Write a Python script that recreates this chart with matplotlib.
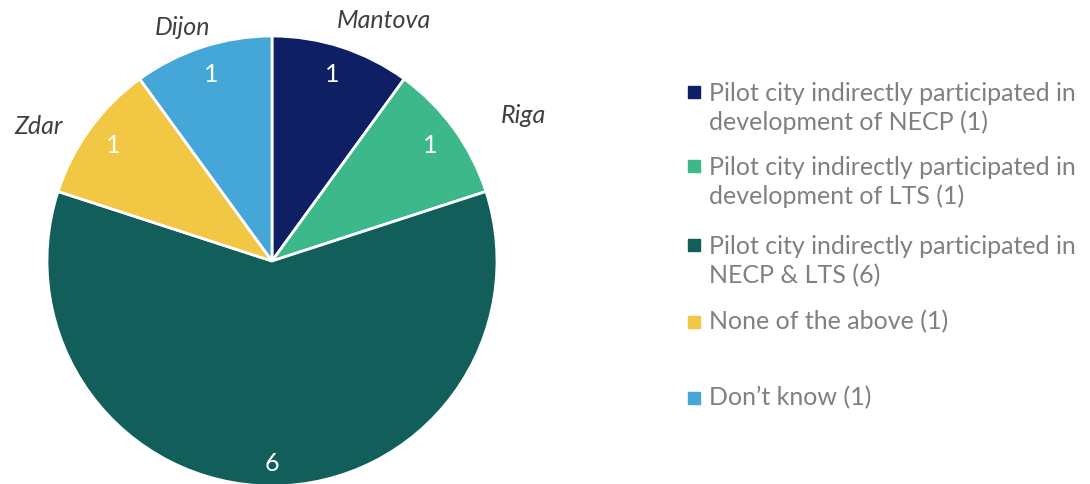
import numpy as np
import matplotlib.pyplot as plt
from matplotlib.patches import Rectangle

plt.rcParams['font.family'] = ['Lato', 'DejaVu Sans']

# pie data (clockwise from 12 o'clock)
counts = [1, 1, 6, 1, 1]
colors = ['#0e1f63', '#3db88a', '#115e5a', '#f2c744', '#45a6d8']
legend_labels = [
    'Pilot city indirectly participated in\ndevelopment of NECP (1)',
    'Pilot city indirectly participated in\ndevelopment of LTS (1)',
    'Pilot city indirectly participated in\nNECP & LTS (6)',
    'None of the above (1)',
    'Don\u2019t know (1)',
]
cities = ['Mantova', 'Riga', '', 'Zdar', 'Dijon']
legend_y = [108, 182, 261, 322, 398]

W, H = 1090, 484
fig = plt.figure(figsize=(W / 100, H / 100), dpi=100)
ax = fig.add_axes([0, 0, 1, 1])
ax.axis('off')

cx, cy, r = 272, H - 261, 225
wedges, _ = ax.pie(counts, colors=colors, startangle=90, counterclock=False,
                   radius=r, center=(cx, cy),
                   wedgeprops=dict(edgecolor='white', linewidth=2))
ax.set_xlim(0, W)
ax.set_ylim(0, H)
ax.set_aspect('equal')

# value labels inside each slice, city names outside
city_pos = {'Mantova': (1.18, 65), 'Riga': (1.29, 30),
            'Zdar': (1.20, 150), 'Dijon': (1.11, 111)}
for w, n, city in zip(wedges, counts, cities):
    mid = np.deg2rad((w.theta1 + w.theta2) / 2)
    k = 0.9 if n > 1 else 0.87
    ax.text(cx + k * r * np.cos(mid), cy + k * r * np.sin(mid), str(n),
            color='white', fontsize=18, ha='center', va='center')
    if city:
        rr, ang = city_pos[city]
        a = np.deg2rad(ang)
        ax.text(cx + rr * r * np.cos(a), cy + rr * r * np.sin(a), city,
                color='#404040', fontsize=18, style='italic',
                ha='center', va='center')

# legend on the right
for lab, col, y in zip(legend_labels, colors, legend_y):
    nlines = lab.count('\n') + 1
    first = y - (nlines - 1) * 16.5
    ax.add_patch(Rectangle((688, H - first - 6), 12, 12, color=col))
    ax.text(709, H - y, lab, color='#808080', fontsize=18,
            ha='left', va='center', linespacing=1.3)

fig.savefig('out.png', dpi=100)
